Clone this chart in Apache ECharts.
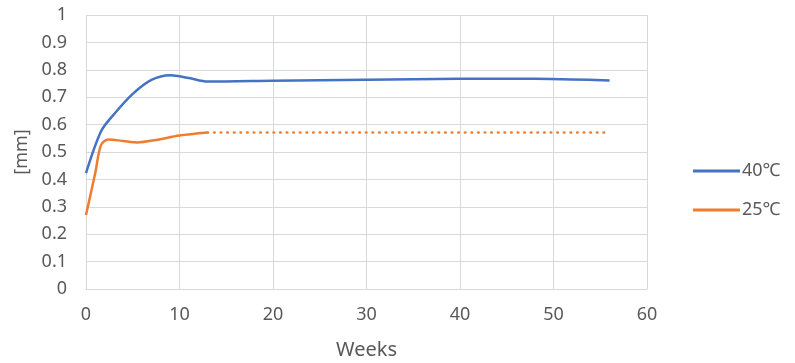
<!DOCTYPE html>
<html>
<head>
<meta charset="utf-8">
<script src="https://cdn.jsdelivr.net/npm/echarts@6/dist/echarts.min.js"></script>
<style>
html,body{margin:0;padding:0;background:#fff;}
#c{width:795px;height:363px;}
</style>
</head>
<body>
<div id="c"></div>
<script>
// Data
var seriesNames = ['40\u2103', '25\u2103'];
var weeks40 = [0, 1.6, 3, 5, 7, 9, 11, 13, 20, 30, 40, 48, 52, 56];
var values40 = [0.423, 0.575, 0.638, 0.712, 0.763, 0.78, 0.77, 0.757, 0.760, 0.764, 0.767, 0.767, 0.765, 0.761];
var weeks25 = [0, 1, 1.6, 2.4, 4, 5.5, 7.5, 10, 13];
var values25 = [0.27, 0.425, 0.525, 0.546, 0.54, 0.535, 0.544, 0.56, 0.571];
var weeks25proj = [13, 56];
var values25proj = [0.571, 0.571];
var xMin = 0, xMax = 60, xStep = 10;
var yMin = 0, yMax = 1, yStep = 0.1;
var xTitle = 'Weeks';
var yTitle = '[mm]';

function pairs(xs, ys) { return xs.map(function (x, i) { return [x, ys[i]]; }); }

var FONT = 'Noto Sans';
var GRAY = '#595959';
var GRID = '#d9d9d9';
var BLUE = '#4472C4';
var ORANGE = '#ED7D31';

var chart = echarts.init(document.getElementById('c'), null, {renderer: 'canvas'});
chart.setOption({
  animation: false,
  backgroundColor: '#fff',
  grid: {left: 86, right: 148, top: 15, bottom: 74, containLabel: false, outerBoundsMode: 'none'},
  xAxis: {
    type: 'value', min: xMin, max: xMax, interval: xStep,
    name: xTitle, nameLocation: 'middle', nameGap: 51,
    nameTextStyle: {fontFamily: FONT, fontSize: 20, color: GRAY},
    axisLine: {show: true, lineStyle: {color: GRID, width: 1}},
    axisTick: {show: false},
    axisLabel: {fontFamily: FONT, fontSize: 18, color: GRAY, margin: 17},
    splitLine: {show: true, lineStyle: {color: GRID, width: 1}}
  },
  yAxis: {
    type: 'value', min: yMin, max: yMax, interval: yStep,
    name: yTitle, nameLocation: 'middle', nameGap: 55, nameRotate: 90,
    nameTextStyle: {fontFamily: FONT, fontSize: 18, color: GRAY},
    axisLine: {show: false},
    axisTick: {show: false},
    axisLabel: {fontFamily: FONT, fontSize: 18, color: GRAY, margin: 19,
      formatter: function (v) { return String(Math.round(v * 10) / 10); }},
    splitLine: {show: true, lineStyle: {color: GRID, width: 1}}
  },
  legend: {
    orient: 'vertical', left: 693, top: 162, padding: 0,
    data: seriesNames,
    icon: 'rect', itemWidth: 47, itemHeight: 3, itemGap: 21,
    textStyle: {fontFamily: FONT, fontSize: 18, color: GRAY, padding: [0, 0, 0, -3]}
  },
  series: [
    {name: seriesNames[0], type: 'line', data: pairs(weeks40, values40), smooth: 0.3,
      showSymbol: false, symbol: 'none', color: BLUE, lineStyle: {color: BLUE, width: 2.5}},
    {name: seriesNames[1], type: 'line', data: pairs(weeks25, values25), smooth: 0.3,
      showSymbol: false, symbol: 'none', color: ORANGE, lineStyle: {color: ORANGE, width: 2.5}},
    {name: 'proj', type: 'line', data: pairs(weeks25proj, values25proj),
      showSymbol: false, symbol: 'none', color: ORANGE,
      lineStyle: {color: ORANGE, width: 2.6, type: [0.5, 6.1], cap: 'round'}}
  ]
});
</script>
</body>
</html>
